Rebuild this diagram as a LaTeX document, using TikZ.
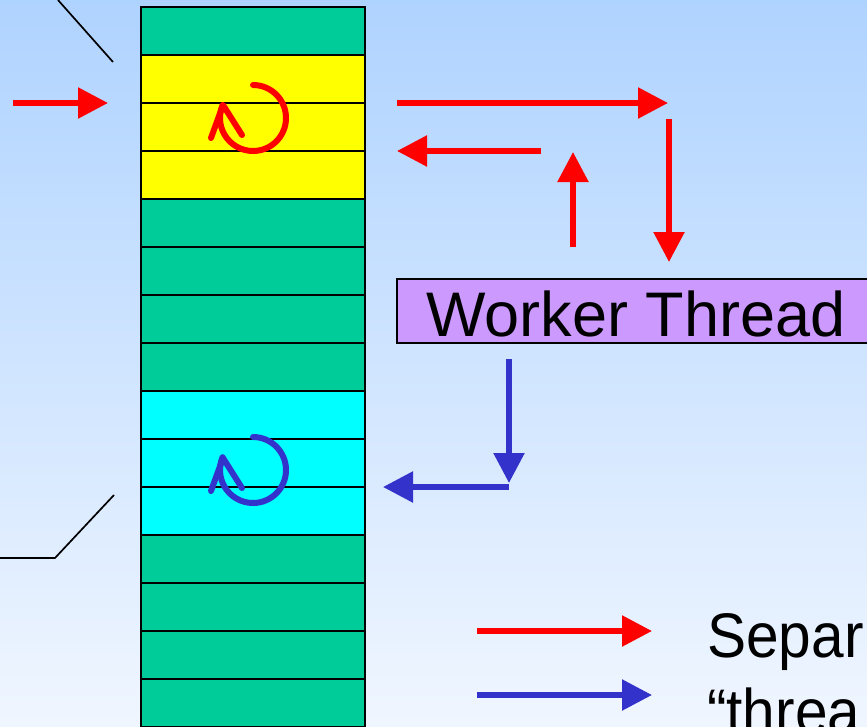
\documentclass[tikz,border=0pt]{standalone}
\usepackage{fontspec}
\setmainfont{Liberation Sans}
\usetikzlibrary{arrows.meta}
\definecolor{bgtop}{RGB}{175,211,255}
\definecolor{bgbot}{RGB}{240,246,255}
\definecolor{stackgreen}{RGB}{0,204,153}
\definecolor{stackyellow}{RGB}{255,255,0}
\definecolor{stackcyan}{RGB}{0,255,255}
\definecolor{workerfill}{RGB}{204,153,255}
\definecolor{arrred}{RGB}{255,0,0}
\definecolor{arrblue}{RGB}{51,51,204}
\begin{document}
\begin{tikzpicture}[x=1pt,y=-1pt,
  row/.style={draw=black, line width=2.4pt, minimum width=224pt, minimum height=48pt,
    inner sep=0pt, outer sep=0pt, anchor=north west},
  redarr/.style={draw=arrred, line width=5.5pt, -{Triangle[length=30pt,width=30pt]}},
  bluearr/.style={draw=arrblue, line width=5.5pt, -{Triangle[length=30pt,width=30pt]}},
  cyc/.style={line width=6pt, line cap=round, line join=round},
  pointer/.style={draw=black, line width=1.7pt},
  bigtext/.style={font=\fontsize{63}{75}\selectfont, inner sep=0pt, anchor=base west},
  workerbox/.style={draw=black, fill=workerfill, line width=2.4pt, minimum width=493pt,
    minimum height=64pt, inner sep=0pt, outer sep=0pt, anchor=north west}
]
\useasboundingbox (0,0) rectangle (867,726);
\clip (0,0) rectangle (867,726);
\shade[top color=bgtop, bottom color=bgbot] (0,0) rectangle (867,726);

% stack of rows
\foreach \i/\c in {0/stackgreen,1/stackyellow,2/stackyellow,3/stackyellow,
  4/stackgreen,5/stackgreen,6/stackgreen,7/stackgreen,
  8/stackcyan,9/stackcyan,10/stackcyan,
  11/stackgreen,12/stackgreen,13/stackgreen,14/stackgreen}
  \node[row, fill=\c] (r\i) at (141,{7+48*\i}) {};

% pointer lines
\coordinate (p1a) at (58,0);
\coordinate (p1b) at (113,62);
\draw[pointer] (p1a) -- (p1b);
\coordinate (p2a) at (0,558);
\coordinate (p2b) at (55,558);
\coordinate (p2c) at (114,495);
\draw[pointer] (p2a) -- (p2b) -- (p2c);

% cyclic arrows
\draw[cyc, arrred] (253,85) arc[start angle=-90, end angle=203, radius=33];
\draw[cyc, arrred] (211,138) -- (223,105) -- (242,135);
\draw[cyc, arrblue] (253,437) arc[start angle=-90, end angle=203, radius=33];
\draw[cyc, arrblue] (211,491) -- (223,458) -- (242,488);

% worker thread
\node[workerbox] (wt) at (397,279) {};
\node[bigtext] (wtlabel) at (426,336) {Worker Thread};

% red arrows
\coordinate (a1s) at (13,103);   \coordinate (a1e) at (108,103);
\coordinate (a2s) at (397,103);  \coordinate (a2e) at (668,103);
\coordinate (a3s) at (669,119);  \coordinate (a3e) at (669,262);
\coordinate (a4s) at (573,247);  \coordinate (a4e) at (573,152);
\coordinate (a5s) at (541,151);  \coordinate (a5e) at (397,151);
\draw[redarr] (a1s) -- (a1e);
\draw[redarr] (a2s) -- (a2e);
\draw[redarr] (a3s) -- (a3e);
\draw[redarr] (a4s) -- (a4e);
\draw[redarr] (a5s) -- (a5e);

% blue arrows
\coordinate (b1s) at (509,359);  \coordinate (b1e) at (509,483);
\coordinate (b2s) at (509,487);  \coordinate (b2e) at (383,487);
\draw[bluearr] (b1s) -- (b1e);
\draw[bluearr] (b2s) -- (b2e);

% legend
\coordinate (l1s) at (477,631);  \coordinate (l1e) at (652,631);
\coordinate (l2s) at (477,695);  \coordinate (l2e) at (652,695);
\draw[redarr] (l1s) -- (l1e);
\draw[bluearr] (l2s) -- (l2e);
\node[bigtext, xscale=0.93, anchor=base west] (leg1) at (707,657) {Separ};
\node[bigtext, xscale=0.93, anchor=base west] (leg2) at (707,733) {“threa};
\end{tikzpicture}
\end{document}
